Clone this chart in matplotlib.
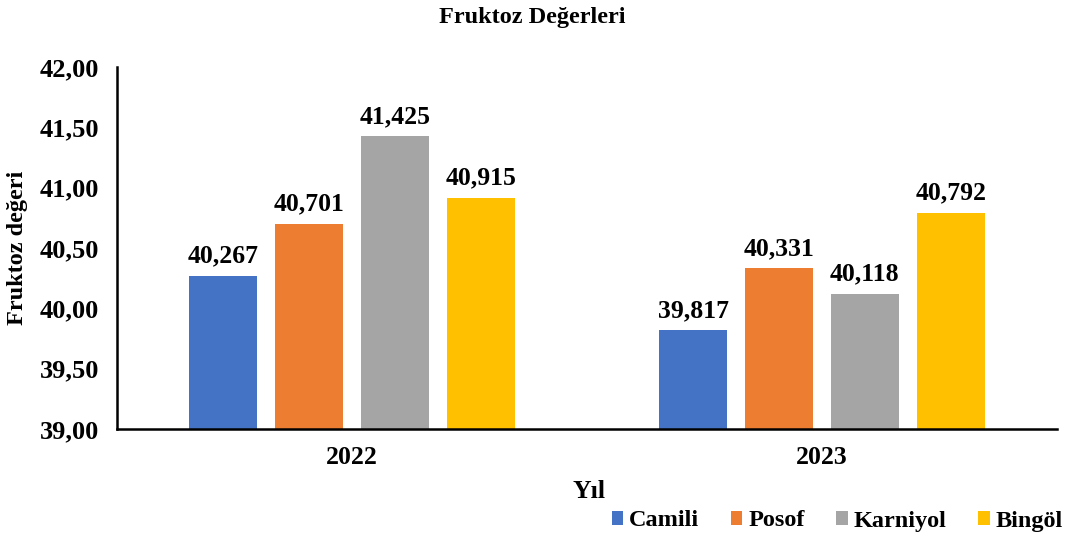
import matplotlib
matplotlib.use("Agg")
import matplotlib.pyplot as plt
import numpy as np

years = ["2022", "2023"]
series = ["Camili", "Posof", "Karniyol", "Bingöl"]
values = {
    "Camili": [40.267, 39.817],
    "Posof": [40.701, 40.331],
    "Karniyol": [41.425, 40.118],
    "Bingöl": [40.915, 40.792],
}
colors = ["#4472C4", "#ED7D31", "#A5A5A5", "#FFC000"]
yticks = [39.0, 39.5, 40.0, 40.5, 41.0, 41.5, 42.0]

plt.rcParams['font.family'] = ['Liberation Serif', 'DejaVu Serif']
plt.rcParams['font.weight'] = 'bold'

fig = plt.figure(figsize=(10.69, 5.37), dpi=100)
ax = fig.add_axes([117/1069, 1-429/537, (1057-117)/1069, (429-67)/537])

x = np.arange(len(years))
width = 0.145
step = 0.1826
for i, (s, c) in enumerate(zip(series, colors)):
    off = (i - 1.5) * step
    vals = values[s]
    ax.bar(x + off, [v - 39 for v in vals], width, bottom=39, color=c, label=s, zorder=2)
    for xi, v in zip(x, vals):
        ax.text(xi + off, v + 0.07, f"{v:.3f}".replace(".", ","), ha="center", va="bottom",
                fontsize=18.5, fontweight="bold")

ax.set_xlim(-0.5, 1.5)
ax.set_ylim(39, 42)
ax.set_yticks(yticks)
ax.set_yticklabels([f"{t:.2f}".replace(".", ",") for t in yticks], fontsize=19, fontweight="bold")
ax.set_xticks(x)
ax.set_xticklabels(years, fontsize=18.5, fontweight="bold")
ax.tick_params(axis="both", length=0)
ax.tick_params(axis="x", pad=12)
ax.tick_params(axis="y", pad=13)
for sp in ["top", "right"]:
    ax.spines[sp].set_visible(False)
for sp in ["left", "bottom"]:
    ax.spines[sp].set_linewidth(1.8)
    ax.spines[sp].set_color("black")

ax.set_ylabel("Fruktoz değeri", fontsize=17.5, fontweight="bold", labelpad=8)
fig.text(589/1069, 1-492/537, "Yıl", ha="center", va="center", fontsize=18.5, fontweight="bold")
fig.text(532/1069, 1-18/537, "Fruktoz Değerleri", ha="center", va="center", fontsize=17.5, fontweight="bold")

leg = fig.legend(loc="center right", bbox_to_anchor=(1063/1069, 1-521/537), ncol=4, frameon=False,
                 prop={"size": 17.5, "weight": "bold"}, handlelength=0.47, handleheight=0.47,
                 handletextpad=0.25, columnspacing=1.3, borderaxespad=0, borderpad=0)

fig.savefig("out.png", dpi=100)
